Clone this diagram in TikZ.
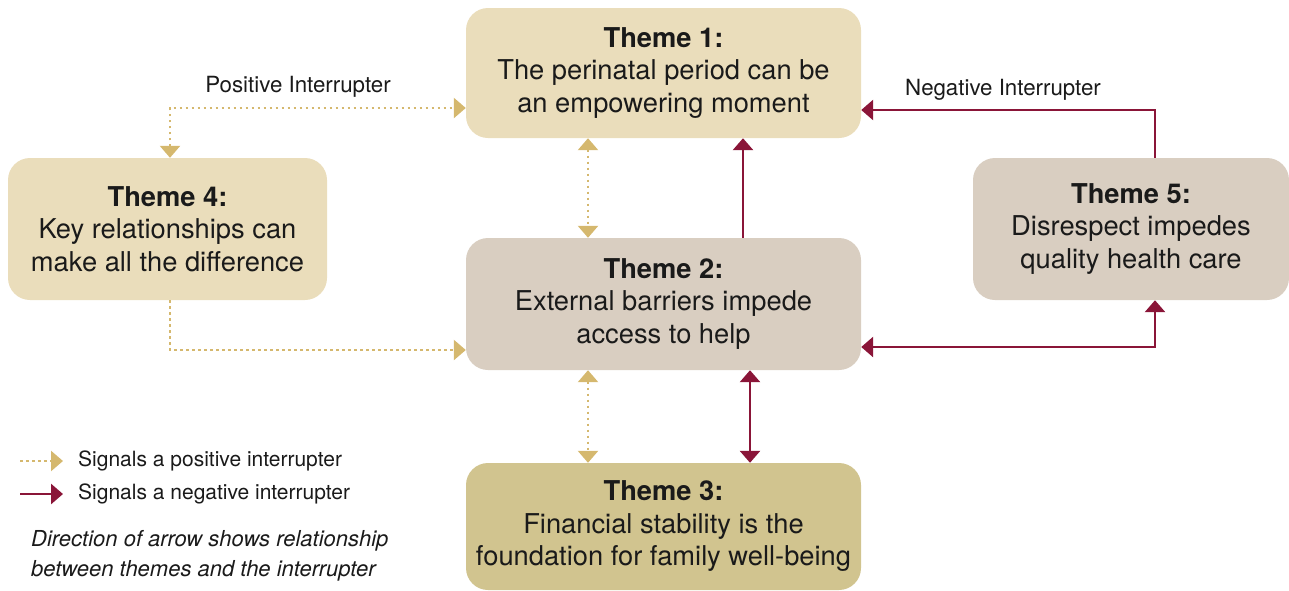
\documentclass[tikz,border=0pt]{standalone}
\usepackage{fontspec}
\setmainfont{TeX Gyre Heros}
\usetikzlibrary{arrows.meta}
\definecolor{sand}{HTML}{EADDBB}
\definecolor{stone}{HTML}{D9CEC1}
\definecolor{wheat}{HTML}{D1C48F}
\definecolor{gold}{HTML}{D5B86E}
\definecolor{wine}{HTML}{8A1538}
\definecolor{ink}{HTML}{1A1A1A}
\tikzset{
  theme/.style={rounded corners=22pt, inner sep=0pt, align=center, text=ink,
    font=\fontsize{27.3}{32.5}\selectfont},
  tip/.style={-{Triangle[width=20pt,length=12pt]}},
  tips/.style={{Triangle[width=20pt,length=12pt]}-{Triangle[width=20pt,length=12pt]}},
  posline/.style={draw=gold, line width=2.5pt, dash pattern=on 2.5pt off 3.5pt},
  negline/.style={draw=wine, line width=2.8pt},
  lbl/.style={text=ink, font=\fontsize{21}{25}\selectfont, inner sep=0pt},
}
\begin{document}
\begin{tikzpicture}[x=1pt,y=-1pt]
\useasboundingbox (0,0) rectangle (1289,590);

% theme boxes
\node[theme, fill=sand, minimum width=395pt, minimum height=130pt] (t1) at (663.5,73)
  {\textbf{Theme 1:}\\The perinatal period can be\\an empowering moment};
\node[theme, fill=stone, minimum width=395pt, minimum height=132pt] (t2) at (663.5,304)
  {\textbf{Theme 2:}\\External barriers impede\\access to help};
\node[theme, fill=wheat, minimum width=395pt, minimum height=127pt] (t3) at (663.5,526.5)
  {\textbf{Theme 3:}\\Financial stability is the\\foundation for family well-being};
\node[theme, fill=sand, minimum width=319pt, minimum height=142pt] (t4) at (167.5,229)
  {\textbf{Theme 4:}\\Key relationships can\\make all the difference};
\node[theme, fill=stone, minimum width=316pt, minimum height=142pt] (t5) at (1131,229)
  {\textbf{Theme 5:}\\Disrespect impedes\\quality health care};

% bend points of the elbow connectors
\coordinate (pa) at (170,108);
\coordinate (pb) at (170,350);
\coordinate (na) at (1155,110);
\coordinate (nb) at (1155,347);
\coordinate (cx) at (588,0);
\coordinate (ra) at (743,0);
\coordinate (rb) at (750,0);

% positive interrupters
\draw[posline, tips] (t4.north -| pa) -- (pa) -- (pa -| t1.west);
\draw[posline, tip] (t4.south -| pb) -- (pb) -- (pb -| t2.west);
\draw[posline, tips] (t1.south -| cx) -- (t2.north -| cx);
\draw[posline, tips] (t2.south -| cx) -- (t3.north -| cx);

% negative interrupters
\draw[negline, tip] (t2.north -| ra) -- (t1.south -| ra);
\draw[negline, tips] (t2.south -| rb) -- (t3.north -| rb);
\draw[negline, tip] (t5.north -| na) -- (na) -- (na -| t1.east);
\draw[negline, tips] (nb -| t2.east) -- (nb) -- (t5.south -| nb);

% connector labels
\node[lbl, font=\fontsize{22.3}{26}\selectfont] (lpos) at (298,87) {Positive Interrupter};
\node[lbl, font=\fontsize{22.3}{26}\selectfont] (lneg) at (1003,90) {Negative Interrupter};

% legend
\coordinate (ga) at (20,461);
\coordinate (gb) at (63,461);
\coordinate (wa) at (20,494);
\coordinate (wb) at (63,494);
\draw[posline, tip] (ga) -- (gb);
\draw[negline, tip] (wa) -- (wb);
\node[lbl, anchor=west] (kpos) at (78,461) {Signals a positive interrupter};
\node[lbl, anchor=west] (kneg) at (78,494) {Signals a negative interrupter};
\node[lbl, anchor=north west, align=left, font=\fontsize{22}{30}\selectfont\itshape] (note) at (31,530)
  {Direction of arrow shows relationship\\between themes and the interrupter};
\end{tikzpicture}
\end{document}
